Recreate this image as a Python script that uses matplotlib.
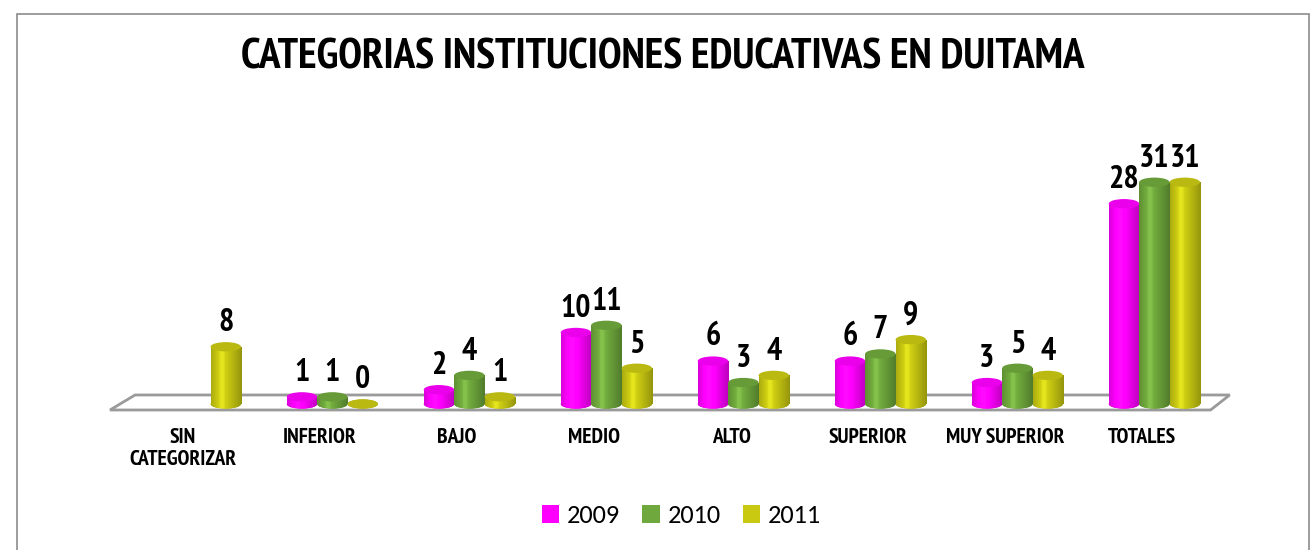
import numpy as np
import matplotlib
matplotlib.use('Agg')
import matplotlib.pyplot as plt
from matplotlib import font_manager
from matplotlib.patches import Ellipse, Polygon, Rectangle
from matplotlib.colors import to_rgb

categories = ['SIN\nCATEGORIZAR', 'INFERIOR', 'BAJO', 'MEDIO', 'ALTO',
              'SUPERIOR', 'MUY SUPERIOR', 'TOTALES']
years = ['2009', '2010', '2011']
v2009 = [None, 1, 2, 10, 6, 6, 3, 28]
v2010 = [None, 1, 4, 11, 3, 7, 5, 31]
v2011 = [8, 0, 1, 5, 4, 9, 4, 31]
colors = ['#FF00FF', '#6FA83C', '#C9C912']


def pick_font(prefs):
    names = {f.name for f in font_manager.fontManager.ttflist}
    for p in prefs:
        if p in names:
            return p
    return 'DejaVu Sans'


narrow = pick_font(['Liberation Sans Narrow', 'PT Sans Narrow', 'Asap Condensed',
                    'Roboto Condensed', 'Archivo Narrow'])
legend_font = pick_font(['Carlito', 'Open Sans', 'Noto Sans'])

fig = plt.figure(figsize=(13.13, 5.5), dpi=100)
fig.patches.append(Rectangle((17 / 1313, -0.01), 1292 / 1313, 1 - 14 / 550 + 0.01,
                             transform=fig.transFigure, fill=False,
                             edgecolor='#8c8c8c', lw=1.2))

fig.text(0.505, 0.894, 'CATEGORIAS INSTITUCIONES EDUCATIVAS EN DUITAMA',
         ha='center', va='center', fontsize=31, fontweight='bold', family=narrow)

ax = fig.add_axes([100 / 1313, 0.2509, 1140 / 1313, 0.5127])
ax.set_xlim(-0.606, 7.715)
ax.set_ylim(-1.12, 38.3)
ax.axis('off')

# floor of the 3D plot
floor = Polygon([(-0.533, -0.84), (-0.35, 1.26), (7.64, 1.26), (7.50, -0.84)],
                closed=True, facecolor='white', edgecolor='#9a9a9a', lw=2, zorder=1)
ax.add_patch(floor)

width = 0.222
offset = 0.09
ell_h = 1.3
shade = np.concatenate([np.linspace(0.85, 1.1, 35), np.linspace(1.1, 0.74, 65)])

series = [v2009, v2010, v2011]
for k, (vals, col) in enumerate(zip(series, colors)):
    base = np.array(to_rgb(col))
    grad = np.clip(base[None, None, :] * shade[None, :, None]
                   + (shade[None, :, None] > 1.05) * 0.04, 0, 1)
    for i, v in enumerate(vals):
        if v is None:
            continue
        xc = i + offset + (k - 1) * width
        x0 = xc - width / 2
        bars = ax.bar(xc, v, width=width, bottom=0, color=col, lw=0, zorder=3)
        rect = bars[0]
        # rounded bottom of the cylinder
        bot = Ellipse((xc, 0), width, ell_h, facecolor=base * 0.85, lw=0, zorder=2.9)
        ax.add_patch(bot)
        if v > 0:
            im = ax.imshow(grad, extent=(x0, x0 + width, 0, v), aspect='auto',
                           zorder=3.1, interpolation='bilinear')
            im.set_clip_path(rect)
            bimg = ax.imshow(grad, extent=(x0, x0 + width, -ell_h / 2, 0.01),
                             aspect='auto', zorder=3.05, interpolation='bilinear')
            bimg.set_clip_path(bot)
        top = Ellipse((xc, v), width, ell_h, facecolor=np.clip(base * 0.92, 0, 1),
                      lw=0, zorder=3.2)
        ax.add_patch(top)
        ax.text(xc, v + 1.2, str(v), ha='center', va='bottom', fontsize=23,
                fontweight='bold', family=narrow, zorder=4)

for i, lab in enumerate(categories):
    ax.text(i, -3.3, lab, ha='center', va='top', fontsize=15.5, fontweight='bold',
            family=narrow, linespacing=1.2)

handles = [Rectangle((0, 0), 1, 1, facecolor=c) for c in colors]
fig.legend(handles, years, loc='center', bbox_to_anchor=(0.519, 0.062), ncol=3,
           frameon=False, prop={'family': legend_font, 'size': 19},
           handlelength=0.65, handleheight=0.65,
           handletextpad=0.3, columnspacing=0.85)

fig.savefig('out.png', dpi=100)
